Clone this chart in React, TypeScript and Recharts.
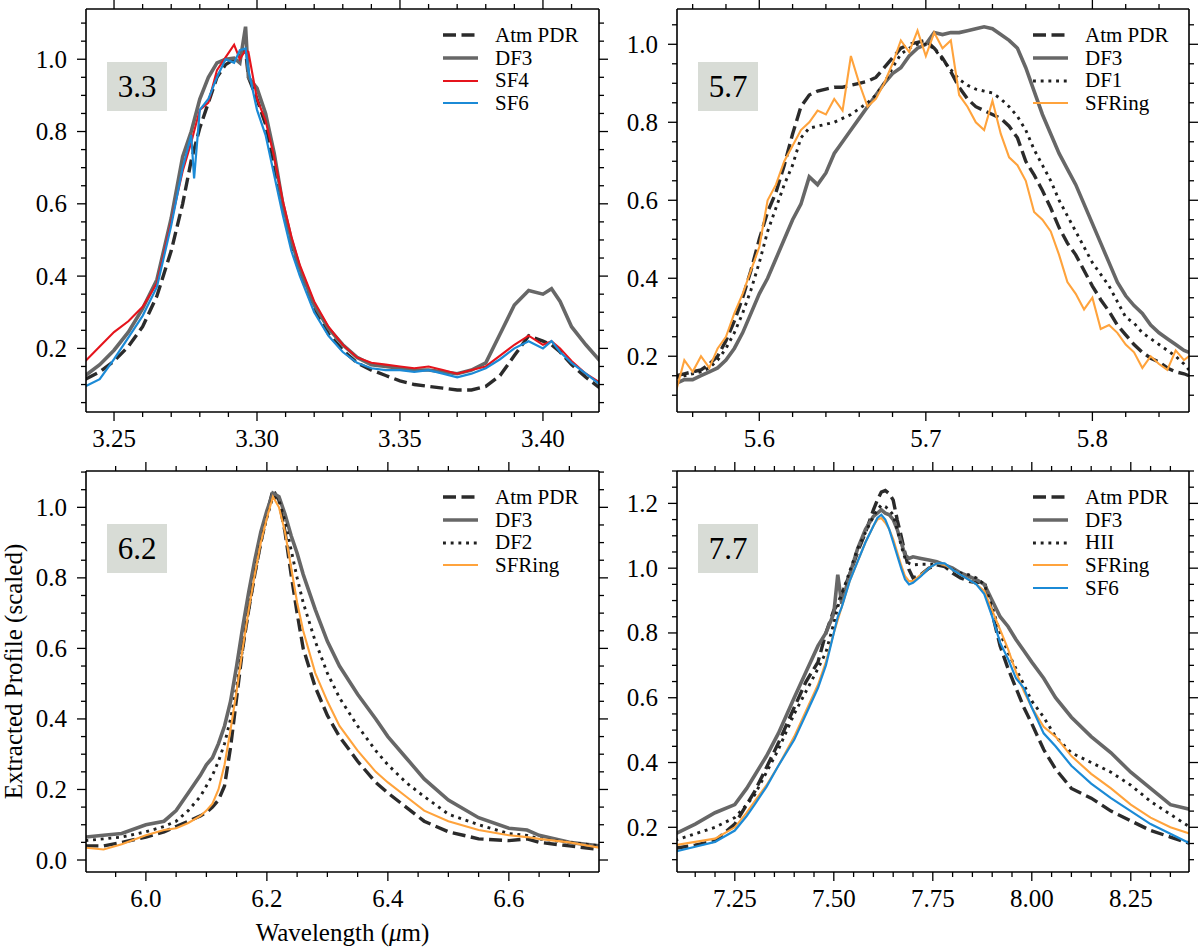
import React from "react"
import { LineChart, Line, XAxis, YAxis } from "recharts"

// ---- 3.3 um feature ----
const wl33 = [3.240, 3.245, 3.250, 3.255, 3.260, 3.265, 3.270, 3.274, 3.277, 3.278, 3.280, 3.283, 3.286, 3.289, 3.292, 3.294, 3.296, 3.297, 3.300, 3.303, 3.306, 3.309, 3.312, 3.315, 3.320, 3.325, 3.330, 3.335, 3.340, 3.345, 3.350, 3.355, 3.360, 3.365, 3.370, 3.375, 3.380, 3.385, 3.390, 3.395, 3.400, 3.403, 3.406, 3.410, 3.415, 3.420]
const atm33 = [0.115, 0.135, 0.165, 0.205, 0.26, 0.345, 0.47, 0.6, 0.72, 0.75, 0.81, 0.88, 0.95, 0.985, 1.0, 1.01, 1.025, 0.95, 0.89, 0.82, 0.71, 0.59, 0.49, 0.41, 0.31, 0.24, 0.195, 0.16, 0.14, 0.125, 0.11, 0.1, 0.095, 0.09, 0.085, 0.085, 0.095, 0.125, 0.18, 0.235, 0.22, 0.21, 0.19, 0.155, 0.12, 0.09]
const df3_33 = [0.125, 0.155, 0.195, 0.245, 0.31, 0.39, 0.56, 0.73, 0.8, 0.83, 0.89, 0.95, 0.99, 1.0, 1.003, 0.99, 1.09, 0.95, 0.92, 0.85, 0.74, 0.6, 0.5, 0.42, 0.32, 0.255, 0.21, 0.175, 0.155, 0.15, 0.145, 0.14, 0.14, 0.135, 0.13, 0.14, 0.16, 0.24, 0.32, 0.36, 0.35, 0.365, 0.33, 0.26, 0.21, 0.165]
const sf4_33 = [0.165, 0.205, 0.245, 0.275, 0.315, 0.38, 0.55, 0.69, 0.77, 0.8, 0.86, 0.88, 0.97, 1.005, 1.04, 1.0, 1.025, 1.02, 0.89, 0.83, 0.73, 0.61, 0.51, 0.43, 0.33, 0.26, 0.21, 0.175, 0.16, 0.155, 0.15, 0.145, 0.15, 0.14, 0.13, 0.14, 0.15, 0.18, 0.21, 0.235, 0.21, 0.22, 0.2, 0.165, 0.13, 0.105]
const sf6_33 = [0.095, 0.115, 0.17, 0.23, 0.29, 0.37, 0.54, 0.7, 0.79, 0.67, 0.86, 0.89, 0.95, 1.0, 0.99, 1.025, 1.03, 0.97, 0.86, 0.79, 0.68, 0.57, 0.47, 0.4, 0.3, 0.235, 0.19, 0.16, 0.145, 0.14, 0.14, 0.135, 0.14, 0.13, 0.12, 0.13, 0.145, 0.17, 0.2, 0.22, 0.2, 0.22, 0.19, 0.16, 0.13, 0.1]

// ---- 5.7 um feature ----
const wl57 = [5.550, 5.555, 5.560, 5.565, 5.570, 5.575, 5.580, 5.585, 5.590, 5.595, 5.600, 5.605, 5.610, 5.615, 5.620, 5.625, 5.630, 5.635, 5.640, 5.645, 5.650, 5.655, 5.660, 5.665, 5.670, 5.675, 5.680, 5.685, 5.690, 5.695, 5.700, 5.705, 5.710, 5.715, 5.720, 5.725, 5.730, 5.735, 5.740, 5.745, 5.750, 5.755, 5.760, 5.765, 5.770, 5.775, 5.780, 5.785, 5.790, 5.795, 5.800, 5.805, 5.810, 5.815, 5.820, 5.825, 5.830, 5.835, 5.840, 5.845, 5.850, 5.855, 5.858]
const atm57 = [0.15, 0.155, 0.16, 0.165, 0.18, 0.2, 0.24, 0.29, 0.35, 0.42, 0.5, 0.57, 0.62, 0.69, 0.77, 0.84, 0.87, 0.88, 0.885, 0.89, 0.89, 0.895, 0.9, 0.905, 0.915, 0.94, 0.965, 0.99, 1.0, 1.005, 1.01, 0.99, 0.965, 0.93, 0.89, 0.86, 0.84, 0.83, 0.82, 0.81, 0.79, 0.76, 0.7, 0.665, 0.625, 0.58, 0.53, 0.49, 0.46, 0.42, 0.38, 0.345, 0.315, 0.28, 0.255, 0.23, 0.21, 0.195, 0.185, 0.17, 0.16, 0.155, 0.15]
const df3_57 = [0.13, 0.14, 0.14, 0.15, 0.16, 0.17, 0.19, 0.22, 0.26, 0.31, 0.36, 0.4, 0.45, 0.5, 0.55, 0.59, 0.66, 0.64, 0.67, 0.72, 0.75, 0.78, 0.81, 0.84, 0.87, 0.9, 0.925, 0.94, 0.97, 0.99, 1.0, 1.03, 1.025, 1.03, 1.03, 1.035, 1.04, 1.045, 1.04, 1.025, 1.01, 0.99, 0.94, 0.88, 0.82, 0.77, 0.72, 0.68, 0.64, 0.59, 0.54, 0.49, 0.44, 0.39, 0.355, 0.33, 0.31, 0.28, 0.26, 0.245, 0.23, 0.215, 0.21]
const df1_57 = [0.145, 0.15, 0.155, 0.16, 0.17, 0.19, 0.22, 0.26, 0.31, 0.37, 0.44, 0.52, 0.58, 0.64, 0.69, 0.76, 0.785, 0.79, 0.795, 0.8, 0.81, 0.82, 0.835, 0.85, 0.87, 0.9, 0.94, 0.975, 0.99, 1.0, 1.0, 0.99, 0.96, 0.935, 0.91, 0.895, 0.885, 0.88, 0.875, 0.86, 0.84, 0.815, 0.78, 0.73, 0.69, 0.65, 0.6, 0.56, 0.52, 0.48, 0.44, 0.41, 0.38, 0.34, 0.3, 0.285, 0.26, 0.245, 0.23, 0.215, 0.2, 0.18, 0.165]
const sfr57 = [0.11, 0.19, 0.16, 0.2, 0.17, 0.22, 0.25, 0.31, 0.36, 0.42, 0.48, 0.6, 0.64, 0.7, 0.74, 0.78, 0.8, 0.83, 0.82, 0.86, 0.83, 0.97, 0.9, 0.84, 0.86, 0.9, 0.95, 1.01, 0.98, 1.035, 0.97, 1.03, 0.99, 1.01, 0.87, 0.84, 0.8, 0.78, 0.855, 0.77, 0.71, 0.69, 0.65, 0.57, 0.55, 0.52, 0.46, 0.39, 0.36, 0.32, 0.35, 0.27, 0.28, 0.26, 0.23, 0.21, 0.17, 0.2, 0.18, 0.165, 0.215, 0.19, 0.2]

// ---- 6.2 um feature ----
const wl62 = [5.90, 5.93, 5.96, 6.00, 6.03, 6.05, 6.07, 6.09, 6.10, 6.11, 6.12, 6.13, 6.14, 6.15, 6.16, 6.17, 6.18, 6.19, 6.20, 6.21, 6.22, 6.23, 6.24, 6.25, 6.26, 6.28, 6.30, 6.32, 6.35, 6.38, 6.40, 6.43, 6.46, 6.50, 6.55, 6.60, 6.63, 6.65, 6.70, 6.75]
const atm62 = [0.04, 0.04, 0.05, 0.065, 0.08, 0.095, 0.11, 0.125, 0.135, 0.15, 0.17, 0.21, 0.32, 0.46, 0.6, 0.71, 0.81, 0.9, 0.98, 1.05, 1.02, 0.93, 0.81, 0.7, 0.6, 0.49, 0.41, 0.35, 0.28, 0.22, 0.19, 0.15, 0.11, 0.08, 0.06, 0.055, 0.06, 0.05, 0.04, 0.03]
const df3_62 = [0.065, 0.07, 0.075, 0.1, 0.11, 0.14, 0.19, 0.24, 0.27, 0.29, 0.33, 0.38, 0.45, 0.55, 0.66, 0.76, 0.85, 0.93, 0.99, 1.04, 1.03, 0.98, 0.92, 0.87, 0.81, 0.71, 0.62, 0.55, 0.47, 0.4, 0.35, 0.29, 0.23, 0.17, 0.12, 0.09, 0.085, 0.07, 0.05, 0.04]
const df2_62 = [0.055, 0.06, 0.065, 0.08, 0.095, 0.11, 0.14, 0.18, 0.21, 0.24, 0.28, 0.33, 0.4, 0.49, 0.6, 0.71, 0.81, 0.9, 0.97, 1.03, 1.02, 0.96, 0.88, 0.8, 0.73, 0.62, 0.53, 0.46, 0.38, 0.31, 0.27, 0.22, 0.18, 0.13, 0.1, 0.075, 0.07, 0.06, 0.05, 0.04]
const sfr62 = [0.035, 0.03, 0.045, 0.07, 0.085, 0.09, 0.105, 0.125, 0.14, 0.16, 0.2, 0.27, 0.37, 0.48, 0.6, 0.71, 0.81, 0.9, 0.97, 1.03, 1.0, 0.93, 0.83, 0.73, 0.65, 0.53, 0.45, 0.38, 0.31, 0.25, 0.22, 0.18, 0.14, 0.11, 0.085, 0.07, 0.065, 0.06, 0.05, 0.035]

// ---- 7.7 um feature ----
const wl77 = [7.10, 7.15, 7.20, 7.25, 7.28, 7.30, 7.33, 7.36, 7.40, 7.43, 7.46, 7.48, 7.50, 7.51, 7.52, 7.54, 7.56, 7.58, 7.60, 7.61, 7.62, 7.63, 7.64, 7.65, 7.66, 7.67, 7.68, 7.69, 7.70, 7.72, 7.74, 7.76, 7.78, 7.80, 7.82, 7.84, 7.86, 7.88, 7.90, 7.92, 7.94, 7.96, 7.98, 8.00, 8.03, 8.06, 8.10, 8.15, 8.20, 8.25, 8.30, 8.35, 8.40]
const atm77 = [0.135, 0.145, 0.158, 0.21, 0.27, 0.31, 0.385, 0.46, 0.57, 0.65, 0.71, 0.8, 0.87, 0.89, 0.92, 0.98, 1.05, 1.11, 1.18, 1.21, 1.235, 1.24, 1.23, 1.21, 1.15, 1.1, 1.045, 0.995, 0.97, 0.98, 1.0, 1.01, 1.005, 0.985, 0.97, 0.96, 0.955, 0.96, 0.86, 0.76, 0.69, 0.63, 0.57, 0.52, 0.44, 0.38, 0.32, 0.29, 0.25, 0.22, 0.19, 0.17, 0.15]
const df3_77 = [0.18, 0.21, 0.245, 0.27, 0.32, 0.36, 0.42, 0.49, 0.6, 0.68, 0.76, 0.8, 0.86, 0.98, 0.89, 0.98, 1.06, 1.12, 1.16, 1.17, 1.18, 1.17, 1.165, 1.15, 1.12, 1.08, 1.04, 1.03, 1.035, 1.03, 1.025, 1.02, 1.01, 1.0, 0.985, 0.975, 0.965, 0.95, 0.9, 0.85, 0.82, 0.78, 0.745, 0.71, 0.66, 0.6, 0.54, 0.48, 0.43, 0.37, 0.32, 0.27, 0.255]
const hii77 = [0.16, 0.18, 0.2, 0.23, 0.27, 0.3, 0.37, 0.44, 0.55, 0.62, 0.69, 0.74, 0.83, 0.88, 0.92, 0.99, 1.06, 1.11, 1.16, 1.18, 1.195, 1.19, 1.18, 1.165, 1.12, 1.07, 1.03, 1.015, 1.01, 1.012, 1.012, 1.012, 1.005, 0.995, 0.985, 0.98, 0.97, 0.95, 0.88, 0.8, 0.74, 0.69, 0.64, 0.59, 0.54, 0.48, 0.43, 0.4, 0.37, 0.33, 0.28, 0.24, 0.2]
const sfr77 = [0.145, 0.155, 0.165, 0.2, 0.245, 0.28, 0.33, 0.39, 0.48, 0.56, 0.64, 0.71, 0.8, 0.84, 0.88, 0.96, 1.02, 1.08, 1.13, 1.15, 1.155, 1.14, 1.12, 1.09, 1.05, 1.01, 0.975, 0.96, 0.96, 0.98, 1.0, 1.015, 1.01, 0.995, 0.98, 0.965, 0.95, 0.93, 0.87, 0.81, 0.75, 0.68, 0.62, 0.57, 0.51, 0.48, 0.42, 0.365, 0.32, 0.27, 0.23, 0.2, 0.18]
const sf6_77 = [0.125, 0.14, 0.155, 0.19, 0.235, 0.27, 0.325, 0.39, 0.47, 0.55, 0.63, 0.7, 0.8, 0.85, 0.88, 0.96, 1.02, 1.08, 1.13, 1.155, 1.165, 1.15, 1.12, 1.08, 1.04, 1.0, 0.965, 0.95, 0.955, 0.975, 1.0, 1.015, 1.015, 0.995, 0.98, 0.965, 0.95, 0.92, 0.85, 0.77, 0.72, 0.66, 0.63, 0.57, 0.49, 0.45, 0.39, 0.335, 0.29, 0.25, 0.21, 0.18, 0.15]

// tick labels
const x33Ticks = [3.25, 3.3, 3.35, 3.4]
const x57Ticks = [5.6, 5.7, 5.8]
const x62Ticks = [6.0, 6.2, 6.4, 6.6]
const x77Ticks = [7.25, 7.5, 7.75, 8.0, 8.25]
const yTicks = [0.2, 0.4, 0.6, 0.8, 1.0]
const y62Ticks = [0.0, 0.2, 0.4, 0.6, 0.8, 1.0]
const y77Ticks = [0.2, 0.4, 0.6, 0.8, 1.0, 1.2]

const FONT = "'Liberation Serif', 'DejaVu Serif', serif"

const STYLES = {
    atm: { stroke: "#2b2b2b", width: 3.4, dash: "13 5.5" },
    df3: { stroke: "#676767", width: 3.6, dash: undefined },
    dot: { stroke: "#202020", width: 2.9, dash: "2.9 4.8" },
    sf4: { stroke: "#e5141c", width: 2.1, dash: undefined },
    sf6: { stroke: "#1b8ad6", width: 2.2, dash: undefined },
    sfr: { stroke: "#ffa33c", width: 2.1, dash: undefined },
}

// margins already leave 1px for each of the four axes
const panels = [
    {
        tag: "3.3", left: 0, top: 0, width: 620, height: 460,
        margin: { top: 8, left: 85, right: 20, bottom: 47 },
        x: wl33, xDomain: [3.2402, 3.4196], yDomain: [0.024, 1.139],
        xTicks: x33Ticks, xMinor: 0.01, xDigits: 2, yTicks: yTicks,
        series: [
            { name: "Atm PDR", values: atm33, style: STYLES.atm },
            { name: "DF3", values: df3_33, style: STYLES.df3 },
            { name: "SF4", values: sf4_33, style: STYLES.sf4 },
            { name: "SF6", values: sf6_33, style: STYLES.sf6 },
        ],
    },
    {
        tag: "5.7", left: 600, top: 0, width: 600, height: 460,
        margin: { top: 8, left: 76, right: 10, bottom: 47 },
        x: wl57, xDomain: [5.5506, 5.858], yDomain: [0.057, 1.0905],
        xTicks: x57Ticks, xMinor: 0.02, xDigits: 1, yTicks: yTicks,
        series: [
            { name: "Atm PDR", values: atm57, style: STYLES.atm },
            { name: "DF3", values: df3_57, style: STYLES.df3 },
            { name: "DF1", values: df1_57, style: STYLES.dot },
            { name: "SFRing", values: sfr57, style: STYLES.sfr },
        ],
    },
    {
        tag: "6.2", left: 0, top: 450, width: 620, height: 499,
        margin: { top: 20, left: 85, right: 20, bottom: 76 },
        x: wl62, xDomain: [5.901, 6.749], yDomain: [-0.034, 1.103],
        xTicks: x62Ticks, xMinor: 0.05, xDigits: 1, yTicks: y62Ticks,
        series: [
            { name: "Atm PDR", values: atm62, style: STYLES.atm },
            { name: "DF3", values: df3_62, style: STYLES.df3 },
            { name: "DF2", values: df2_62, style: STYLES.dot },
            { name: "SFRing", values: sfr62, style: STYLES.sfr },
        ],
    },
    {
        tag: "7.7", left: 600, top: 450, width: 600, height: 499,
        margin: { top: 20, left: 76, right: 10, bottom: 76 },
        x: wl77, xDomain: [7.104, 8.397], yDomain: [0.062, 1.3],
        xTicks: x77Ticks, xMinor: 0.05, xDigits: 2, yTicks: y77Ticks,
        series: [
            { name: "Atm PDR", values: atm77, style: STYLES.atm },
            { name: "DF3", values: df3_77, style: STYLES.df3 },
            { name: "HII", values: hii77, style: STYLES.dot },
            { name: "SFRing", values: sfr77, style: STYLES.sfr },
            { name: "SF6", values: sf6_77, style: STYLES.sf6 },
        ],
    },
]

// every tick position (major and minor) inside a domain
function allTicks(domain, step) {
    const out = []
    for (let k = Math.ceil(domain[0] / step - 1e-6); k * step <= domain[1] + 1e-9; k++) {
        out.push(+(k * step).toFixed(4))
    }
    return out
}

const isMajor = (list, v) => list.some((m) => Math.abs(m - v) < 1e-6)

// draws an outward tick mark, long for majors (with label if asked), short for minors
function makeTick(side, majors, fmt) {
    return (props) => {
        const { x, y, payload } = props
        const major = isMajor(majors, payload.value)
        const len = major ? 9 : 5
        let line
        let label = null
        if (side === "bottom") {
            line = <line x1={x} y1={y} x2={x} y2={y + len} />
            if (major && fmt) label = <text x={x} y={y + 35} textAnchor="middle">{fmt(payload.value)}</text>
        } else if (side === "top") {
            line = <line x1={x} y1={y} x2={x} y2={y - len} />
        } else if (side === "left") {
            line = <line x1={x} y1={y} x2={x - len} y2={y} />
            if (major && fmt) label = <text x={x - 19} y={y + 8.5} textAnchor="end">{fmt(payload.value)}</text>
        } else {
            line = <line x1={x} y1={y} x2={x + len} y2={y} />
        }
        return (
            <g stroke="#000" strokeWidth={1.3}>
                {line}
                {label && <g stroke="none" fill="#000" fontSize={25} fontFamily={FONT}>{label}</g>}
            </g>
        )
    }
}

const AXIS_LINE = { stroke: "#000", strokeWidth: 1.6 }

function frame(p) {
    const xs = allTicks(p.xDomain, p.xMinor)
    const ys = allTicks(p.yDomain, 0.05)
    const xFmt = (v) => v.toFixed(p.xDigits)
    const yFmt = (v) => v.toFixed(1)
    const common = { type: "number", allowDataOverflow: true, interval: 0, tickSize: 0, tickMargin: 0, tickLine: false, axisLine: AXIS_LINE }
    return [
        <XAxis key="xb" xAxisId="b" dataKey="x" orientation="bottom" height={1} domain={p.xDomain} ticks={xs}
            tick={makeTick("bottom", p.xTicks, xFmt)} {...common} />,
        <XAxis key="xt" xAxisId="t" dataKey="x" orientation="top" height={1} domain={p.xDomain} ticks={xs}
            tick={makeTick("top", p.xTicks, null)} {...common} />,
        <YAxis key="yl" yAxisId="l" orientation="left" width={1} domain={p.yDomain} ticks={ys}
            tick={makeTick("left", p.yTicks, yFmt)} {...common} />,
        <YAxis key="yr" yAxisId="r" orientation="right" width={1} domain={p.yDomain} ticks={ys}
            tick={makeTick("right", p.yTicks, null)} {...common} />,
    ]
}

function Panel({ p }) {
    const rows = p.x.map((x, i) => {
        const row = { x }
        p.series.forEach((s, j) => { row["s" + j] = s.values[i] })
        return row
    })
    const plotLeft = p.left + p.margin.left + 1
    const plotTop = p.top + p.margin.top + 1
    const plotRight = p.left + p.width - p.margin.right - 1

    return (
        <>
            <div style={{ position: "absolute", left: p.left, top: p.top }}>
                <LineChart width={p.width} height={p.height} data={rows} margin={p.margin}>
                    {frame(p)}
                    {p.series.map((s, j) => (
                        <Line key={s.name} xAxisId="b" yAxisId="l" dataKey={"s" + j} type="linear"
                            stroke={s.style.stroke} strokeWidth={s.style.width} strokeDasharray={s.style.dash}
                            dot={false} activeDot={false} isAnimationActive={false} />
                    ))}
                </LineChart>
            </div>

            <div style={{
                position: "absolute", left: plotLeft + 21, top: plotTop + 53, width: 60, height: 49,
                background: "#d8dcd6", fontFamily: FONT, fontSize: 31, lineHeight: "49px", textAlign: "center",
            }}>
                {p.tag}
            </div>

            <div style={{ position: "absolute", left: plotRight - 156, top: plotTop + 26.5 - 11.3 }}>
                {p.series.map((s) => (
                    <div key={s.name} style={{ display: "flex", alignItems: "center", height: 22.6 }}>
                        <svg width={35} height={8}>
                            <line x1={0} y1={4} x2={35} y2={4} stroke={s.style.stroke}
                                strokeWidth={s.style.width} strokeDasharray={s.style.dash} />
                        </svg>
                        <span style={{ marginLeft: 17, fontFamily: FONT, fontSize: 21, lineHeight: "22.6px", color: "#000" }}>
                            {s.name}
                        </span>
                    </div>
                ))}
            </div>
        </>
    )
}

export default function App() {

    return (

        <div style={{ position: "absolute", left: 0, top: 0, width: 1200, height: 949, background: "#fff", overflow: "hidden" }}>

            <svg width={1200} height={949} style={{ position: "absolute", left: 0, top: 0 }}>
                <text x={342.5} y={941} textAnchor="middle" fontFamily={FONT} fontSize={25} fill="#000">
                    Wavelength (<tspan fontStyle="italic">μ</tspan>m)
                </text>
                <text transform="translate(22,671.5) rotate(-90)" textAnchor="middle" fontFamily={FONT} fontSize={25} fill="#000">
                    Extracted Profile (scaled)
                </text>
            </svg>

            {panels.map((p) => (
                <Panel key={p.tag} p={p} />
            ))}

        </div>

    )

}
